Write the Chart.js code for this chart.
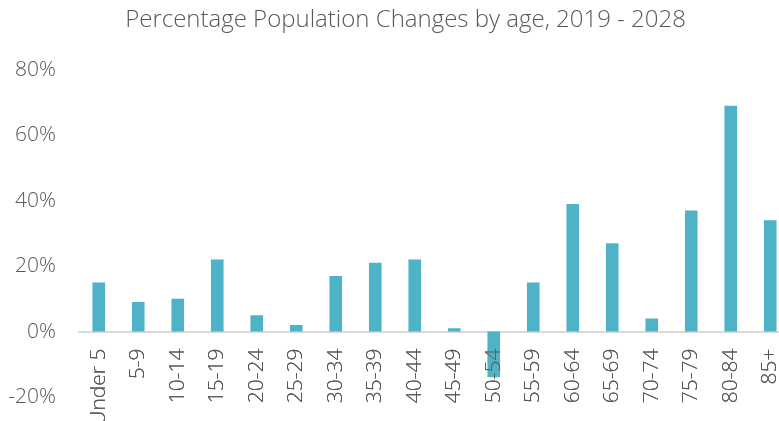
<!DOCTYPE html>
<html>
<head>
<meta charset="utf-8">
<script src="https://cdn.jsdelivr.net/npm/chart.js@4.4.0/dist/chart.umd.min.js"></script>
<style>
  html, body { margin: 0; padding: 0; background: #fff; overflow: hidden; }
  #wrap { position: relative; width: 811px; height: 421px; }
</style>
</head>
<body>
<div id="wrap"><canvas id="myChart1"></canvas></div>
<script>
// age groups and % change 2019 -> 2028
const ageGroups = ['Under 5', '5-9', '10-14', '15-19', '20-24', '25-29', '30-34', '35-39', '40-44',
                   '45-49', '50-54', '55-59', '60-64', '65-69', '70-74', '75-79', '80-84', '85+'];
const pctChange = [15, 9, 10, 22, 5, 2, 17, 21, 22, 1, -14, 15, 39, 27, 4, 37, 69, 34];
const yTicks = [-20, 0, 20, 40, 60, 80];

const textColor = '#595959';
const fontFamily = "'Open Sans', 'Noto Sans', sans-serif";

// the age labels sit on top of the bars (50-54 crosses its bar)
const labelsOnTop = {
    id: 'labelsOnTop',
    afterDatasetsDraw(chart) {
        const x = chart.scales.x;
        chart.ctx.save();
        x.drawLabels(chart.chartArea);
        chart.ctx.restore();
    }
};

let myChart1;
document.addEventListener('DOMContentLoaded', function() {
    const ctx = document.getElementById('myChart1').getContext('2d');
    myChart1 = new Chart(ctx, {
        type: 'bar',
        data: {
            labels: ageGroups,
            datasets: [{
                label: 'Change',
                data: pctChange,
                backgroundColor: '#4fb3c8',
                borderWidth: 0,
                categoryPercentage: 1,
                barPercentage: 0.32
            }]
        },
        options: {
            responsive: true,
            maintainAspectRatio: false,
            animation: false,
            layout: {
                padding: { left: 0, right: 0, top: 0, bottom: 24 }
            },
            scales: {
                x: {
                    position: { y: 0 },
                    afterFit: function(axis) {
                        // axis sits at 0, keep it from taking room
                        axis.height = 0;
                        axis.paddingLeft = 0;
                        axis.paddingRight = 21;
                    },
                    grid: { display: false, drawTicks: false },
                    border: { display: true, color: '#d9d9d9', width: 2 },
                    ticks: {
                        color: textColor,
                        font: { family: fontFamily, size: 21, weight: 300 },
                        minRotation: 90,
                        maxRotation: 90,
                        autoSkip: false,
                        padding: 17
                    }
                },
                y: {
                    min: -20,
                    max: 80,
                    afterBuildTicks: function(axis) {
                        axis.ticks = yTicks.map(v => ({ value: v }));
                    },
                    afterFit: function(axis) {
                        axis.width = 79;
                        axis.paddingTop = 0;
                        axis.paddingBottom = 0;
                    },
                    grid: { display: false, drawTicks: false },
                    border: { display: false },
                    ticks: {
                        color: textColor,
                        font: { family: fontFamily, size: 21, weight: 300 },
                        padding: 23,
                        callback: v => v + '%'
                    }
                }
            },
            plugins: {
                legend: { display: false },
                tooltip: { enabled: false },
                title: {
                    display: true,
                    text: 'Percentage Population Changes by age, 2019 - 2028',
                    color: textColor,
                    font: { family: fontFamily, size: 24, weight: 300 },
                    padding: { top: 6, bottom: 35 }
                }
            }
        },
        plugins: [labelsOnTop]
    });
});
</script>
</body>
</html>
